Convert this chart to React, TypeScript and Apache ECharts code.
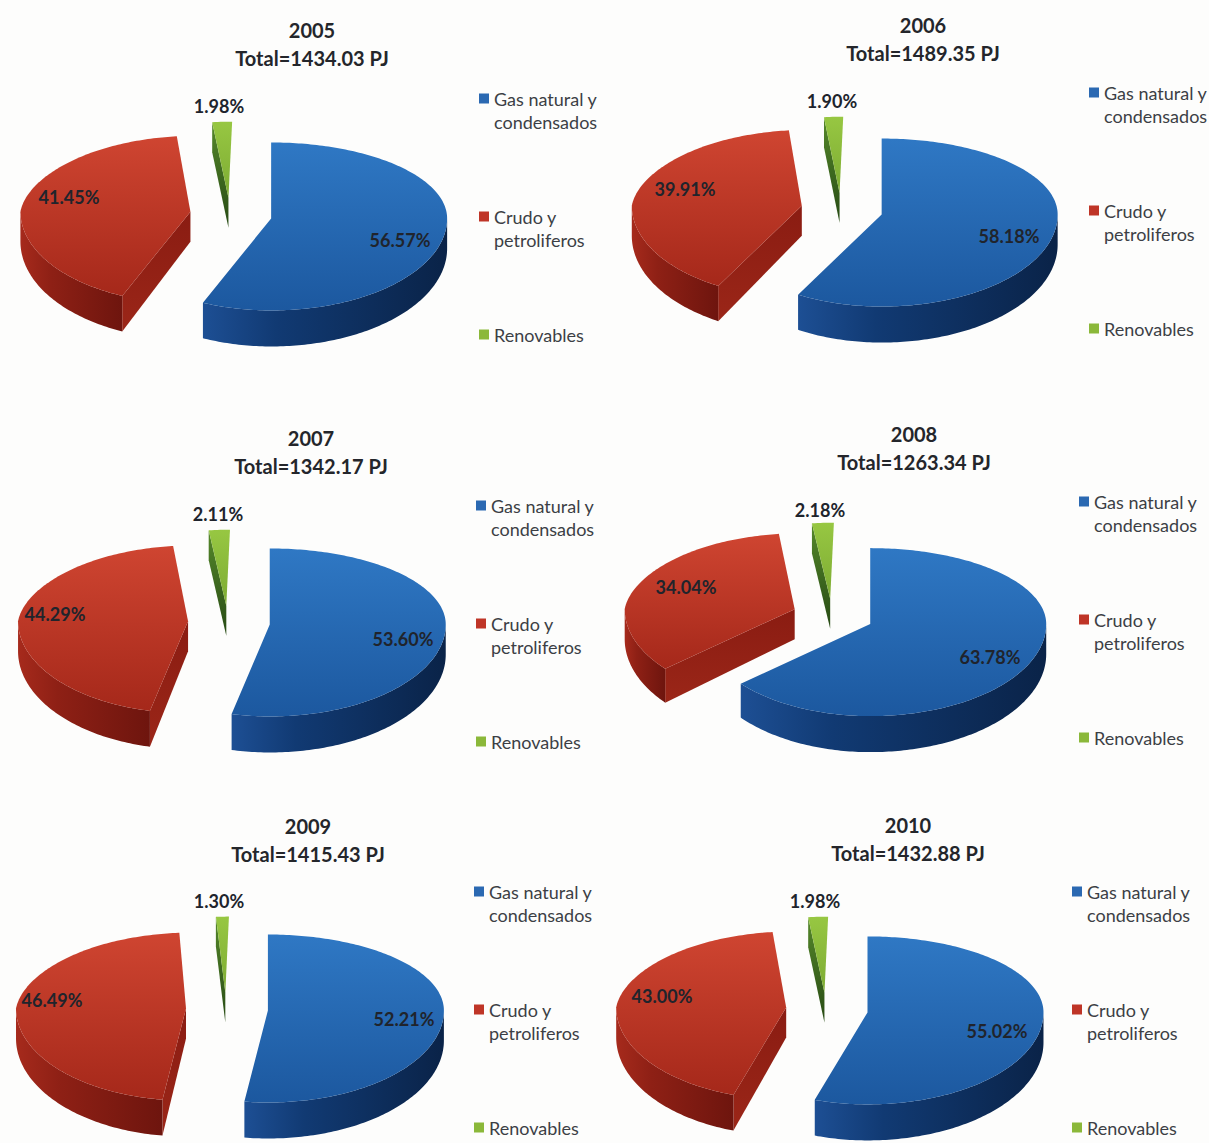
import React, { useEffect, useRef } from "react";
import * as echarts from "echarts";

// Primary energy mix per year, in percent of the yearly total
const years = ["2005", "2006", "2007", "2008", "2009", "2010"];
const totals = ["1434.03", "1489.35", "1342.17", "1263.34", "1415.43", "1432.88"];
const gas = [56.57, 58.18, 53.6, 63.78, 52.21, 55.02];
const crude = [41.45, 39.91, 44.29, 34.04, 46.49, 43.0];
const renewables = [1.98, 1.9, 2.11, 2.18, 1.3, 1.98];
const fuelNames = ["Gas natural y condensados", "Crudo y petroliferos", "Renovables"];
const fuelLegendText = ["\nGas natural y\ncondensados", "\nCrudo y\npetroliferos", "\nRenovables\n"];

// Panel layout: exploded-pie centre, title position, legend position, value label anchors
const pieCentres = [[231, 214], [842, 209], [229, 622], [833, 615], [227, 1009], [827, 1009]];
const titleAnchors = [[312, 31], [923, 26], [311, 439], [914, 435], [308, 827], [908, 826]];
const legendAnchors = [[479, 99], [1089, 93], [476, 506], [1079, 502], [474, 892], [1072, 892]];
const gasLabels = [[400, 240], [1009, 236], [403, 639], [990, 657], [404, 1019], [997, 1031]];
const crudeLabels = [[69, 197], [685, 189], [55, 614], [686, 587], [52, 1000], [662, 996]];
const renewableLabels = [[219, 106], [832, 101], [218, 514], [820, 510], [219, 901], [815, 901]];

const FONT = "Lato, 'Open Sans', sans-serif";
const RX_RIGHT = 176;
const RX_LEFT = 170;
const RY_BACK = 76;
const RY_FRONT = 92;
const EXPLODE = 41;
const EXPLODE_BACK_RATIO = 0.4;
const EXPLODE_FRONT_RATIO = 0.53;
const BACK_NARROWING = 0.07;
const BACK_LEAN = 3.5;
const DEPTH = 30;
const DEPTH_FRONT = 6;
const RAD = Math.PI / 180;

const vertical = (a: string, b: string) => ({
  type: "linear", x: 0, y: 0, x2: 0, y2: 1,
  colorStops: [{ offset: 0, color: a }, { offset: 1, color: b }],
});
const wallGradient = (a: string, b: string, c: string) => ({
  type: "linear", x: 0, y: 0, x2: 1, y2: 0,
  colorStops: [{ offset: 0, color: a }, { offset: 0.3, color: b }, { offset: 1, color: c }],
});

const skins = [
  { legend: "#2b69b2", top: vertical("#2f78c4", "#1c589f"), wall: wallGradient("#1d4f94", "#113a73", "#0a2348"), face: "#123a70" },
  { legend: "#bf3527", top: vertical("#cf4531", "#a5281a"), wall: wallGradient("#a62a1c", "#8e2015", "#6e150e"), face: vertical("#8a1c12", "#9b2618") },
  { legend: "#8bb83a", top: vertical("#97c742", "#7dab33"), wall: wallGradient("#3b6a1e", "#36601b", "#2b5016"), face: vertical("#55882a", "#274a14") },
];

// Projects a pie angle (clockwise from the back of the pie) onto the page.
// ax, ay is the slice's apex; the far rim left of the axis cx narrows and leans towards it.
function project(cx: number, ax: number, ay: number, angle: number) {
  const s = Math.sin(angle * RAD);
  const c = Math.cos(angle * RAD);
  let x = ax + (s > 0 ? RX_RIGHT : RX_LEFT) * s;
  if (c > 0 && x < cx) x = cx + (x - cx) * (1 - BACK_NARROWING * c) + BACK_LEAN * Math.pow(c, 12);
  const y = ay - (c > 0 ? RY_BACK : RY_FRONT) * c;
  const depth = DEPTH + DEPTH_FRONT * Math.max(0, -c);
  return { x, y, depth };
}

function sliceShapes(cx: number, cy: number, from: number, to: number, fuel: number) {
  const skin = skins[fuel];
  const mid = (from + to) / 2;
  const sm = Math.sin(mid * RAD);
  const cm = Math.cos(mid * RAD);
  const ax = cx + EXPLODE * sm;
  const ay = cy - EXPLODE * cm * (cm > 0 ? EXPLODE_BACK_RATIO : EXPLODE_FRONT_RATIO);

  const rim: number[][] = [];
  for (let a = from; ; a += 1) {
    const p = project(cx, ax, ay, Math.min(a, to));
    rim.push([p.x, p.y]);
    if (a >= to) break;
  }

  const children: any[] = [];
  const face = (angle: number) => {
    const p = project(cx, ax, ay, angle);
    children.push({
      type: "polygon",
      shape: { points: [[ax, ay], [p.x, p.y], [p.x, p.y + p.depth], [ax, ay + DEPTH]] },
      style: { fill: skin.face },
    });
  };
  if (Math.sin(from * RAD) < -1e-6) face(from);
  if (Math.sin(to * RAD) > 1e-6) face(to);

  const wallFrom = Math.max(from, 90);
  const wallTo = Math.min(to, 270);
  if (wallTo > wallFrom) {
    const upper: number[][] = [];
    const lower: number[][] = [];
    for (let a = wallFrom; ; a += 1) {
      const p = project(cx, ax, ay, Math.min(a, wallTo));
      upper.push([p.x, p.y]);
      lower.unshift([p.x, p.y + p.depth]);
      if (a >= wallTo) break;
    }
    children.push({
      type: "polygon",
      shape: { points: upper.concat(lower) },
      style: { fill: skin.wall },
    });
  }

  children.push({
    type: "polygon",
    shape: { points: [[ax, ay], ...rim] },
    style: { fill: skin.top },
  });
  return children;
}

function valueLabel(x: number, y: number, value: number) {
  return {
    type: "text",
    x,
    y,
    style: {
      text: value.toFixed(2) + "%",
      fill: "#20242c",
      fontSize: 18,
      fontWeight: "bold",
      fontFamily: FONT,
      align: "center",
      verticalAlign: "middle",
    },
  };
}

function buildOption() {
  const series: any[] = [];
  const title: any[] = [];
  const legend: any[] = [];
  years.forEach((year, i) => {
    const [cx, cy] = pieCentres[i];
    const shares = [gas[i], crude[i], renewables[i]];
    const anchors = [gasLabels[i], crudeLabels[i], renewableLabels[i]];
    let start = 0;
    shares.forEach((share, fuel) => {
      const from = start;
      start += share;
      const to = fuel === 2 ? 100 : start;
      series.push({
        type: "custom",
        name: fuelNames[fuel],
        coordinateSystem: "none",
        silent: true,
        itemStyle: { color: skins[fuel].legend },
        data: [[share]],
        renderItem: (_p: any, api: any) => ({
          type: "group",
          children: [
            ...sliceShapes(cx, cy, from * 3.6, to * 3.6, fuel),
            valueLabel(anchors[fuel][0], anchors[fuel][1], api.value(0)),
          ],
        }),
      });
    });
    title.push({
      text: `${year}\nTotal=${totals[i]} PJ`,
      left: titleAnchors[i][0],
      top: titleAnchors[i][1] - 15,
      textAlign: "center",
      padding: 0,
      textStyle: { fontFamily: FONT, fontWeight: "bold", fontSize: 20, lineHeight: 28, color: "#24262b" },
    });
    legend.push({
      orient: "vertical",
      left: legendAnchors[i][0],
      top: legendAnchors[i][1] - 35,
      height: 330,
      padding: 0,
      itemWidth: 10,
      itemHeight: 10,
      itemGap: 49,
      icon: "rect",
      selectedMode: false,
      data: fuelNames,
      formatter: (name: string) => fuelLegendText[fuelNames.indexOf(name)],
      textStyle: { fontFamily: FONT, fontSize: 18, lineHeight: 23, color: "#3c3f45" },
    });
  });
  return { animation: false, backgroundColor: "#fdfdfc", title, legend, series };
}

export default function App() {
  const ref = useRef<HTMLDivElement>(null);
  useEffect(() => {
    const chart = echarts.init(ref.current!, undefined, { renderer: "svg" });
    chart.setOption(buildOption());
    return () => chart.dispose();
  }, []);
  return <div ref={ref} style={{ position: "absolute", left: 0, top: 0, width: 1209, height: 1143 }} />;
}
